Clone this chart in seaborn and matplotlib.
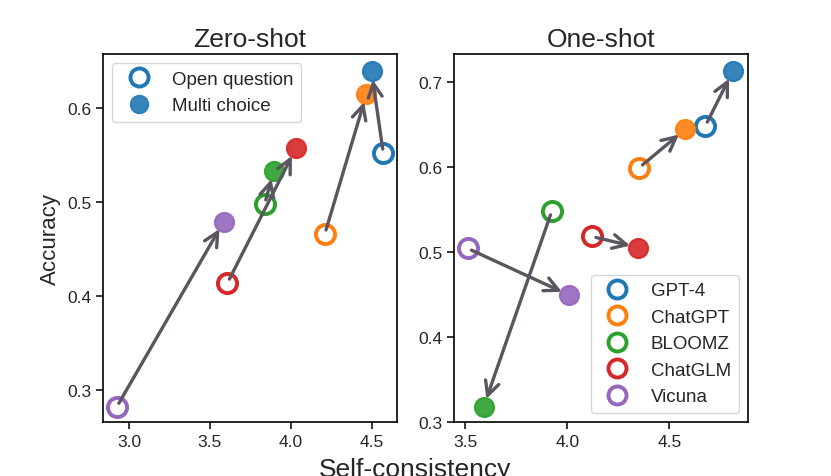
import matplotlib
matplotlib.use('Agg')
import matplotlib.pyplot as plt
from matplotlib.lines import Line2D
import seaborn as sns

sns.set_style('ticks')
plt.rcParams['font.family'] = ['Liberation Sans', 'DejaVu Sans']

models = ['GPT-4', 'ChatGPT', 'BLOOMZ', 'ChatGLM', 'Vicuna']
colors = ['#1f77b4', '#ff7f0e', '#2ca02c', '#d62728', '#9467bd']

# zero-shot: open question -> multi choice
zs_open_x = [4.573, 4.211, 3.839, 3.609, 2.924]
zs_open_y = [0.552, 0.466, 0.498, 0.414, 0.282]
zs_mc_x = [4.500, 4.469, 3.895, 4.031, 3.585]
zs_mc_y = [0.639, 0.615, 0.533, 0.557, 0.479]

# one-shot
os_open_x = [4.676, 4.353, 3.925, 4.121, 3.513]
os_open_y = [0.648, 0.599, 0.548, 0.518, 0.504]
os_mc_x = [4.810, 4.578, 3.591, 4.348, 4.011]
os_mc_y = [0.712, 0.644, 0.318, 0.505, 0.449]

arrow_col = '#5b5560'
msize = 190

fig, axes = plt.subplots(1, 2, figsize=(8.31, 4.77), dpi=100)
fig.subplots_adjust(left=0.124, right=0.900, top=0.885, bottom=0.113, wspace=0.197)


def draw(ax, ox, oy, mx, my):
    for i, m in enumerate(models):
        sns.scatterplot(x=[ox[i]], y=[oy[i]], ax=ax, color='white', edgecolor=colors[i],
                        linewidth=2.8, s=msize, zorder=2)
        sns.scatterplot(x=[mx[i]], y=[my[i]], ax=ax, color=colors[i], edgecolor=colors[i],
                        alpha=0.9, linewidth=1.5, s=msize, zorder=2)
        ax.annotate('', xy=(mx[i], my[i]), xytext=(ox[i], oy[i]),
                    arrowprops=dict(arrowstyle='->', color=arrow_col, lw=2.4,
                                    mutation_scale=25, shrinkA=3, shrinkB=6),
                    zorder=3)
    for s in ax.spines.values():
        s.set_linewidth(1.2)
        s.set_color('black')
    ax.tick_params(labelsize=12.5, length=5, width=1.1, color='black')
    ax.set_xlabel('')
    ax.set_ylabel('')


ax1, ax2 = axes
draw(ax1, zs_open_x, zs_open_y, zs_mc_x, zs_mc_y)
draw(ax2, os_open_x, os_open_y, os_mc_x, os_mc_y)

ax1.set_xlim(2.839, 4.655)
ax1.set_ylim(0.2658, 0.6577)
ax1.set_xticks([3.0, 3.5, 4.0, 4.5])
ax1.set_yticks([0.3, 0.4, 0.5, 0.6])
ax2.set_xlim(3.448, 4.884)
ax2.set_ylim(0.3, 0.7325)
ax2.set_xticks([3.5, 4.0, 4.5])
ax2.set_yticks([0.3, 0.4, 0.5, 0.6, 0.7])

ax1.set_title('Zero-shot', fontsize=19)
ax2.set_title('One-shot', fontsize=19)
ax1.set_ylabel('Accuracy', fontsize=16)
fig.text(0.5, 0.0, 'Self-consistency', ha='center', va='baseline', fontsize=19)

h1 = [Line2D([], [], ls='none', marker='o', markersize=13, markerfacecolor='white',
             markeredgecolor=colors[0], markeredgewidth=2.8),
      Line2D([], [], ls='none', marker='o', markersize=13, markerfacecolor=colors[0],
             markeredgecolor=colors[0], alpha=0.9)]
ax1.legend(h1, ['Open question', 'Multi choice'], loc='upper left', fontsize=13.5)

h2 = [Line2D([], [], ls='none', marker='o', markersize=13, markerfacecolor='white',
             markeredgecolor=c, markeredgewidth=2.8) for c in colors]
ax2.legend(h2, models, loc='lower right', fontsize=13.5)

fig.savefig('out.png', dpi=100)
